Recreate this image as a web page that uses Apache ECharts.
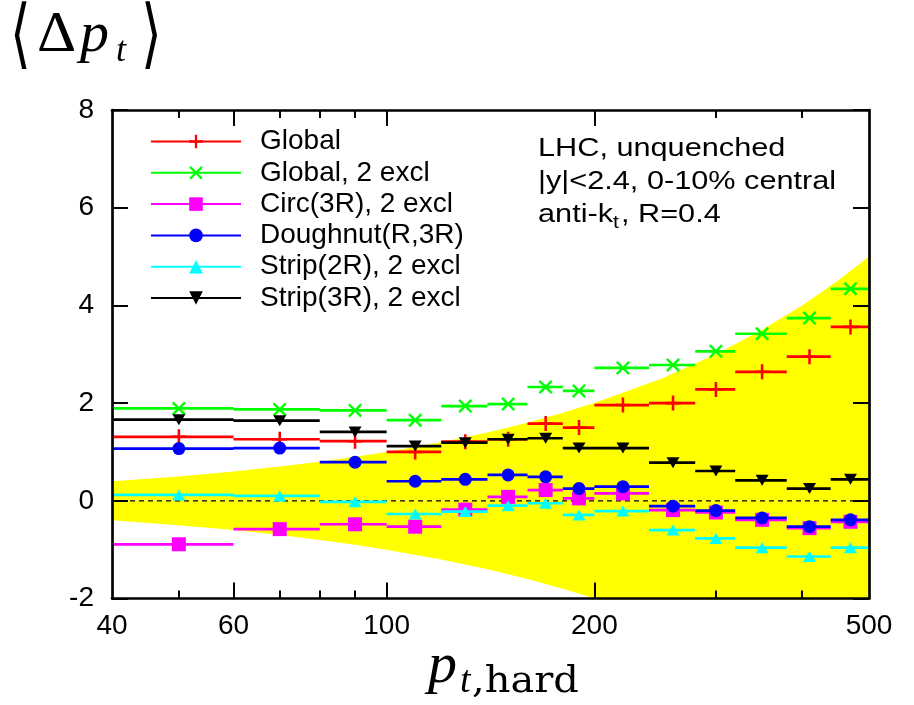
<!DOCTYPE html>
<html><head><meta charset="utf-8">
<script src="https://cdn.jsdelivr.net/npm/echarts@6/dist/echarts.min.js"></script>
<style>html,body{margin:0;padding:0;background:#fff}#c{width:914px;height:705px}</style>
</head><body><div id="c"></div>
<script>
// ---- data ----
const binLow    = [40, 60, 80, 100, 120, 140, 160, 180, 200, 240, 280, 320, 380, 440];
const binHigh   = [60, 80, 100, 120, 140, 160, 180, 200, 240, 280, 320, 380, 440, 500];
const binCenter = [50, 70, 90, 110, 130, 150, 170, 190, 220, 260, 300, 350, 410, 470];

const seriesNames = ['Global', 'Global, 2 excl', 'Circ(3R), 2 excl', 'Doughnut(R,3R)', 'Strip(2R), 2 excl', 'Strip(3R), 2 excl'];
const globalVals     = [1.31, 1.26, 1.22, 1.00, 1.21, 1.26, 1.58, 1.50, 1.96, 2.00, 2.28, 2.64, 2.95, 3.56];
const globalExclVals = [1.89, 1.87, 1.85, 1.65, 1.94, 1.98, 2.33, 2.25, 2.72, 2.78, 3.06, 3.42, 3.74, 4.34];
const circVals       = [-0.89, -0.58, -0.48, -0.53, -0.18, 0.08, 0.22, 0.05, 0.15, -0.19, -0.24, -0.39, -0.56, -0.43];
const doughnutVals   = [1.07, 1.08, 0.79, 0.40, 0.44, 0.53, 0.49, 0.25, 0.29, -0.11, -0.20, -0.35, -0.53, -0.39];
const strip2Vals     = [0.12, 0.10, -0.02, -0.27, -0.22, -0.10, -0.05, -0.29, -0.21, -0.60, -0.77, -0.96, -1.14, -0.96];
const strip3Vals     = [1.66, 1.64, 1.41, 1.12, 1.19, 1.26, 1.28, 1.08, 1.08, 0.78, 0.61, 0.42, 0.25, 0.44];

const bandPt    = [40, 50, 60, 70, 80, 90, 100, 120, 140, 160, 180, 200, 250, 300, 350, 400, 450, 500];
const bandUpper = [0.4, 0.5, 0.6, 0.7, 0.8, 0.9, 1.0, 1.2, 1.4, 1.6, 1.8, 2.0, 2.5, 3.0, 3.5, 4.0, 4.5, 5.0];
const bandLower = [-0.4, -0.5, -0.6, -0.7, -0.8, -0.9, -1.0, -1.2, -1.4, -1.6, -1.8, -2.0, -2.5, -3.0, -3.5, -4.0, -4.5, -5.0];

const xTickLabels = [40, 60, 100, 200, 500];
const xMajorTicks = [60, 100, 200];
const xMinorTicks = [50, 70, 80, 90, 300, 400];
const yMin = -2, yMax = 8, yStep = 2;

// ---- styles ----
const PLUS  = 'path://M8.3,0L11.7,0L11.7,8.3L20,8.3L20,11.7L11.7,11.7L11.7,20L8.3,20L8.3,11.7L0,11.7L0,8.3L8.3,8.3Z';
const CROSS = 'path://M0,2.4L2.4,0L20,17.6L17.6,20ZM17.6,0L20,2.4L2.4,20L0,17.6Z';
const styles = [
  {color: '#ff0000', symbol: PLUS,       size: 15,       rotate: 0},
  {color: '#00ff00', symbol: CROSS,      size: 14,       rotate: 0},
  {color: '#ff00ff', symbol: 'rect',     size: 14,       rotate: 0},
  {color: '#0000ff', symbol: 'circle',   size: 13,       rotate: 0},
  {color: '#00ffff', symbol: 'triangle', size: [13, 11], rotate: 0},
  {color: '#000000', symbol: 'triangle', size: [13, 11], rotate: 180}
];
const allVals = [globalVals, globalExclVals, circVals, doughnutVals, strip2Vals, strip3Vals];

function binSegments(vals) {
  const d = [];
  for (let i = 0; i < vals.length; i++) {
    d.push([binLow[i], vals[i]]);
    d.push([binHigh[i], vals[i]]);
    d.push([binHigh[i], '-']);
  }
  return d;
}

const series = [];
series.push({type: 'line', name: 'band_up', z: 0, data: bandPt.map((p, i) => [p, bandUpper[i]]),
  symbol: 'none', silent: true, lineStyle: {opacity: 0}, areaStyle: {color: '#ffff00', opacity: 1}});
series.push({type: 'line', name: 'band_low', z: 0, data: bandPt.map((p, i) => [p, bandLower[i]]),
  symbol: 'none', silent: true, lineStyle: {opacity: 0}, areaStyle: {color: '#ffff00', opacity: 1}});
series.push({type: 'line', name: 'zero', z: 1, data: [[40, 0], [500, 0]], symbol: 'none', silent: true,
  lineStyle: {color: '#000', width: 1.3, type: [5, 4]}});

allVals.forEach((vals, k) => {
  const st = styles[k];
  series.push({
    type: 'line', name: seriesNames[k], z: 10 + 2 * k, data: binSegments(vals),
    symbol: st.symbol, symbolSize: st.size, symbolRotate: st.rotate, showSymbol: false,
    connectNulls: false, color: st.color,
    lineStyle: {color: st.color, width: 2.7, cap: 'butt'},
    itemStyle: {color: st.color}, emphasis: {disabled: true}, silent: true
  });
  series.push({
    type: 'scatter', name: seriesNames[k], z: 11 + 2 * k, data: binCenter.map((c, i) => [c, vals[i]]),
    symbol: st.symbol, symbolSize: st.size, symbolRotate: st.rotate, color: st.color,
    itemStyle: {color: st.color, opacity: 1}, emphasis: {disabled: true}, silent: true
  });
});

const SANS = '"Liberation Sans", Arial, sans-serif';
const frameLine = {show: true, onZero: false, lineStyle: {color: '#000', width: 2.7}};
function xAxisDef(pos, ticks, len, showLine, labels) {
  return {
    type: 'log', logBase: 10, min: 40, max: 500, position: pos, z: 30,
    axisLine: showLine ? frameLine : {show: false, onZero: false},
    axisTick: {show: true, inside: true, length: len, customValues: ticks, lineStyle: {color: '#000', width: 2}},
    axisLabel: labels ? {show: true, customValues: labels, fontSize: 28, fontFamily: SANS, color: '#000', margin: 14}
                      : {show: false},
    splitLine: {show: false}, minorTick: {show: false}, minorSplitLine: {show: false}
  };
}
function yAxisDef(pos, labels) {
  return {
    type: 'value', min: yMin, max: yMax, interval: yStep, position: pos, z: 30,
    axisLine: frameLine,
    axisTick: {show: true, inside: true, length: 16, lineStyle: {color: '#000', width: 2}},
    axisLabel: labels ? {show: true, fontSize: 28, fontFamily: SANS, color: '#000', margin: 18} : {show: false},
    splitLine: {show: false}
  };
}

function txt(x, y, text, font, extra) {
  return Object.assign({type: 'text', x: x, y: y, silent: true,
    style: {text: text, font: font, fill: '#000', verticalAlign: 'middle', textAlign: 'left'}}, extra || {});
}
const ANN = '26px "Liberation Sans", Arial, sans-serif';
const BRACKET = '200 76px "DejaVu Sans", serif';

const option = {
  animation: false,
  backgroundColor: '#fff',
  grid: {left: 112, right: 45, top: 110, bottom: 106.5, containLabel: false},
  xAxis: [
    xAxisDef('bottom', xMajorTicks, 16, true, xTickLabels),
    xAxisDef('bottom', xMinorTicks, 8, false, null),
    xAxisDef('top', xMajorTicks, 16, true, null),
    xAxisDef('top', xMinorTicks, 8, false, null)
  ],
  yAxis: [yAxisDef('left', true), yAxisDef('right', false)],
  legend: {
    orient: 'vertical', left: 150, top: 126, padding: 0, itemGap: 0.3,
    itemWidth: 90, itemHeight: 17, selectedMode: false,
    data: seriesNames.map(n => ({name: n})),
    textStyle: {fontSize: 28, fontFamily: SANS, color: '#000', lineHeight: 31, padding: [0, 0, 0, 14]}
  },
  graphic: [
    txt(10, 39, '⟨', BRACKET, {scaleX: 0.7}),
    txt(37, 35.5, 'Δ', '58px "Liberation Serif", serif', {scaleX: 1.05}),
    txt(80, 35.5, 'p', 'italic 58px "Liberation Serif", serif'),
    txt(116, 52, 't', 'italic 36px "Liberation Serif", serif'),
    txt(141, 39, '⟩', BRACKET, {scaleX: 0.7}),
    txt(428, 667, 'p', 'italic 58px "Liberation Serif", serif'),
    txt(460, 682, 't', 'italic 38px "Liberation Serif", serif'),
    txt(472, 682, ',hard', '38px "DejaVu Serif", serif', {scaleX: 1.05}),
    txt(538, 149, 'LHC, unquenched', ANN, {scaleX: 1.18}),
    txt(538, 182, '|y|<2.4, 0-10% central', ANN, {scaleX: 1.18}),
    txt(538, 215, 'anti-k', ANN, {scaleX: 1.18}),
    txt(613, 223, 't', '18px "Liberation Sans", Arial, sans-serif', {scaleX: 1.18}),
    txt(621, 215, ', R=0.4', ANN, {scaleX: 1.18})
  ],
  series: series
};
const chart = echarts.init(document.getElementById('c'), null, {renderer: 'canvas'});
chart.setOption(option);
</script></body></html>
